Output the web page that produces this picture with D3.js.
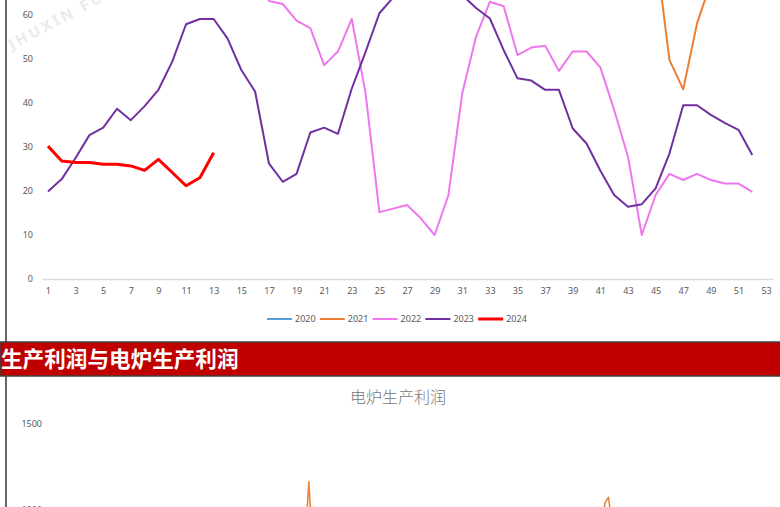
<!DOCTYPE html>
<html>
<head>
<meta charset="utf-8">
<script src="https://cdn.jsdelivr.net/npm/d3@7"></script>
<style>
  body { margin: 0; background: #fff; }
  svg { display: block; }
</style>
</head>
<body>
<div id="chart"></div>
<script>
// weekly data, week 1..52 (null = not in the visible crop)
const weeks = d3.range(1, 53);
const xTicks = d3.range(1, 54, 2);
const yTicks = [0, 10, 20, 30, 40, 50, 60];
const years = ["2020", "2021", "2022", "2023", "2024"];
const colors = ["#5B9BD5", "#ED7D31", "#EE77EE", "#7030A0", "#FF0000"];

// 2020 runs above the visible area, only its legend entry shows
const y2020 = [];
const y2021 = [null, null, null, null, null, null, null, null, null, null,
  null, null, null, null, null, null, null, null, null, null,
  null, null, null, null, null, null, null, null, null, null,
  null, null, null, null, null, null, null, null, null, null,
  null, null, null, null, 75, 49.8, 43.1, 58.1, 67.4];
const y2022 = [null, null, null, null, null, null, null, null, null, null,
  null, null, null, null, null, 72, 63.2, 62.5, 58.7, 57.0,
  48.6, 51.7, 59.1, 42.2, 15.2, 16.0, 16.8, 13.8, 10.0, 19.1,
  42.2, 55.1, 63.0, 62.0, 50.9, 52.6, 53.0, 47.3, 51.7, 51.7,
  48.1, 38.4, 27.8, 10.0, 19.1, 23.9, 22.5, 23.9, 22.5, 21.7,
  21.7, 19.8];
const y2023 = [19.9, 22.7, 27.5, 32.7, 34.4, 38.7, 36.1, 39.3, 43.0, 49.4,
  57.9, 59.1, 59.1, 54.7, 47.5, 42.6, 26.3, 22.1, 23.9, 33.3,
  34.4, 33.0, 43.3, 51.6, 60.4, 64, 67, 68, 68, 67,
  64.5, 61.6, 59.2, 52.0, 45.6, 45.1, 43.0, 43.0, 34.2, 30.8,
  24.6, 19.1, 16.4, 17.0, 20.6, 28.5, 39.5, 39.5, 37.3, 35.5,
  33.9, 28.2];
const y2024 = [30.2, 26.8, 26.5, 26.5, 26.1, 26.1, 25.7, 24.7, 27.2, 24.2,
  21.2, 23.0, 28.7];

// lower chart (electric furnace profit), only the two spikes reach into view
const eafTitle = "电炉生产利润";
const eafTicks = [1000, 1500];
const eafIdx = [70, 71, 72, 73, 74, 75, 76, 152, 153, 154, 155, 156, 157];
const eafProfit = [820, 840, 800, 1164, 800, 830, 810, 860, 850, 1040, 1074, 900, 870];

const bannerText = "生产利润与电炉生产利润";

const W = 780, H = 507;
const svg = d3.select("#chart").append("svg")
  .attr("width", W)
  .attr("height", H)
  .style("font-family", "'Noto Sans', sans-serif");

// faint watermark
svg.append("text")
  .attr("transform", "translate(12,50) rotate(-28)")
  .attr("fill", "#ebebeb")
  .attr("font-size", 15)
  .attr("font-weight", "bold")
  .attr("letter-spacing", 3)
  .text("JHUXIN FUTURES");

// ---------- top chart ----------
var xScale = d3.scaleLinear().domain([0.57, 53.5]).range([42, 773]);
var yScale = d3.scaleLinear().domain([0, 60]).range([279, 15]);

var xAxis = d3.axisBottom(xScale).tickValues(xTicks).tickSize(0).tickPadding(9);
var yAxis = d3.axisLeft(yScale).tickValues(yTicks).tickSize(0).tickPadding(9);

var gx = svg.append("g")
  .attr("transform", "translate(0," + yScale(0) + ")")
  .call(xAxis);
gx.select(".domain").attr("stroke", "#d9d9d9").attr("stroke-width", 1.5);
gx.selectAll("text").attr("fill", "#595959").attr("font-size", 9)
  .attr("font-family", "'Noto Sans', sans-serif");

var gy = svg.append("g")
  .attr("transform", "translate(42,0)")
  .call(yAxis);
gy.select(".domain").remove();
gy.selectAll("text").attr("fill", "#595959").attr("font-size", 9)
  .attr("font-family", "'Noto Sans', sans-serif");

var series = [y2020, y2021, y2022, y2023, y2024];

var line = d3.line()
  .defined(d => d.v != null)
  .x(d => xScale(d.w))
  .y(d => yScale(d.v));

series.forEach(function (vals, i) {
  var pts = vals.map((v, j) => ({ w: weeks[j], v: v }));
  svg.append("path")
    .datum(pts)
    .attr("fill", "none")
    .attr("stroke", colors[i])
    .attr("stroke-width", i === 4 ? 3 : 2)
    .attr("stroke-linejoin", "round")
    .attr("d", line);
});

// legend
var legend = svg.append("g").attr("transform", "translate(267,319)");
var item = legend.selectAll("g")
  .data(years)
  .enter().append("g")
  .attr("transform", (d, i) => "translate(" + (i * 52.8) + ",0)");
item.append("line")
  .attr("x1", 0).attr("x2", 25)
  .attr("stroke", (d, i) => colors[i])
  .attr("stroke-width", (d, i) => i === 4 ? 3 : 2);
item.append("text")
  .attr("x", 28)
  .attr("dy", "0.35em")
  .attr("fill", "#595959")
  .attr("font-size", 9)
  .text(d => d);

// left frame line
svg.append("line").attr("x1", 6).attr("x2", 6).attr("y1", 0).attr("y2", 342)
  .attr("stroke", "#333").attr("stroke-width", 1.5);
svg.append("line").attr("x1", 6).attr("x2", 6).attr("y1", 376).attr("y2", H)
  .attr("stroke", "#333").attr("stroke-width", 1.5);

// ---------- red section banner ----------
svg.append("rect")
  .attr("x", 0).attr("y", 342)
  .attr("width", W).attr("height", 34)
  .attr("fill", "#C00000")
  .attr("stroke", "#404040").attr("stroke-width", 1.5);
svg.append("text")
  .attr("x", 1)
  .attr("y", 359)
  .attr("dy", "0.36em")
  .attr("fill", "#fff")
  .attr("font-size", 21.6)
  .attr("font-weight", "bold")
  .attr("font-family", "'Noto Sans CJK SC', sans-serif")
  .text(bannerText);

// ---------- lower chart ----------
svg.append("text")
  .attr("x", 398)
  .attr("y", 397)
  .attr("dy", "0.35em")
  .attr("text-anchor", "middle")
  .attr("fill", "#767676")
  .attr("font-size", 16)
  .attr("font-family", "'Noto Sans CJK SC', sans-serif")
  .attr("font-weight", 300)
  .text(eafTitle);

var x2 = d3.scaleLinear().domain([0, 200]).range([42, 773]);
var y2 = d3.scaleLinear().domain([1000, 1500]).range([510, 424]);

var gy2 = svg.append("g")
  .attr("transform", "translate(51,0)")
  .call(d3.axisLeft(y2).tickValues(eafTicks).tickFormat(d3.format("d"))
    .tickSize(0).tickPadding(9));
gy2.select(".domain").remove();
gy2.selectAll("text").attr("fill", "#595959").attr("font-size", 9)
  .attr("font-family", "'Noto Sans', sans-serif");

var line2 = d3.line()
  .x(d => x2(d[0]))
  .y(d => y2(d[1]));

svg.append("path")
  .datum(eafIdx.map((d, i) => [d, eafProfit[i]]))
  .attr("fill", "none")
  .attr("stroke", "#ED7D31")
  .attr("stroke-width", 1.5)
  .attr("stroke-linejoin", "round")
  .attr("d", line2);
</script>
</body>
</html>
